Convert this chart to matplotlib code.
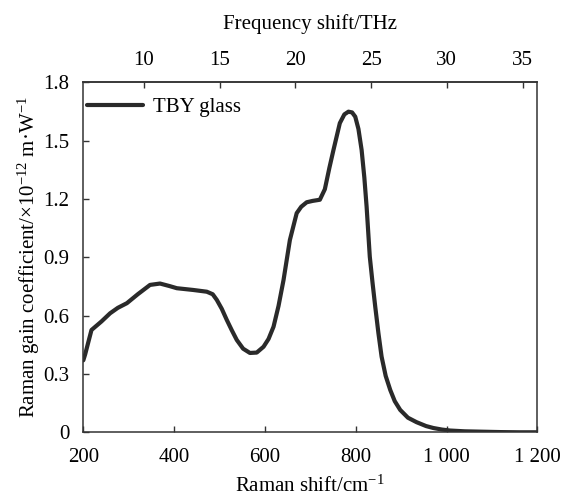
import matplotlib
matplotlib.use("Agg")
import matplotlib.pyplot as plt

plt.rcParams['font.family'] = ['Liberation Serif', 'DejaVu Serif']
plt.rcParams['mathtext.fontset'] = 'custom'
plt.rcParams['mathtext.rm'] = 'Liberation Serif'
plt.rcParams['mathtext.it'] = 'Liberation Serif:italic'

# Data
raman_shift = [200, 204, 218, 240, 259, 276, 296, 320, 347, 369, 390, 406, 442, 472, 485, 494,
               505, 516, 527, 538, 552, 567, 582, 597, 608, 619, 630, 641, 655, 670, 680,
               692, 705, 721, 732, 742, 751, 765, 775, 784, 792, 799, 806, 813, 819, 824,
               831, 837, 843, 850, 857, 866, 876, 886, 898, 915, 934, 955, 971, 990, 1008,
               1040, 1080, 1120, 1160, 1200]
gain = [0.37, 0.40, 0.526, 0.57, 0.612, 0.64, 0.664, 0.71, 0.758, 0.765, 0.752, 0.741, 0.732, 0.723, 0.71, 0.681,
        0.635, 0.578, 0.525, 0.475, 0.43, 0.408, 0.41, 0.44, 0.48, 0.543, 0.65, 0.783, 0.989, 1.127, 1.16,
        1.183, 1.19, 1.196, 1.25, 1.36, 1.452, 1.59, 1.635, 1.649, 1.645, 1.623, 1.56, 1.452, 1.31, 1.16,
        0.903, 0.77, 0.646, 0.51, 0.389, 0.29, 0.218, 0.16, 0.115, 0.075, 0.052, 0.032, 0.022, 0.014, 0.009,
        0.005, 0.003, 0.001, 0.0, 0.0]

x_ticks = [200, 400, 600, 800, 1000, 1200]
x_tick_labels = ['200', '400', '600', '800', '1 000', '1 200']
y_ticks = [0, 0.3, 0.6, 0.9, 1.2, 1.5, 1.8]
y_tick_labels = ['0', '0.3', '0.6', '0.9', '1.2', '1.5', '1.8']
thz_ticks = [10, 15, 20, 25, 30, 35]
CM_PER_THZ = 33.356

FS = 15

fig = plt.figure(figsize=(5.64, 4.97), dpi=100)
ax = fig.add_axes([0.1477, 0.1302, 0.805, 0.7042])

ax.plot(raman_shift, gain, color='#2a2a2a', lw=3.0, solid_capstyle='round', label='TBY glass')
ax.set_xlim(200, 1200)
ax.set_ylim(0, 1.8)

ax.set_xticks(x_ticks)
ax.set_xticklabels(x_tick_labels)
ax.set_yticks(y_ticks)
ax.set_yticklabels(y_tick_labels)

spine_col = '#333333'
for s in ax.spines.values():
    s.set_color(spine_col)
    s.set_linewidth(1.1)

ax.tick_params(axis='x', direction='in', length=4, width=1.0, color=spine_col,
               labelsize=FS, pad=11.5)
ax.tick_params(axis='y', direction='in', length=4, width=1.0, color=spine_col,
               labelsize=FS, pad=10)

ax.set_xlabel('Raman shift/cm$^{-1}$', fontsize=FS, labelpad=6)
ax.set_ylabel('Raman gain coefficient/×10$^{-12}$ m·W$^{-1}$', fontsize=FS, labelpad=1)

sec = ax.secondary_xaxis('top', functions=(lambda x: x / CM_PER_THZ, lambda t: t * CM_PER_THZ))
sec.set_xticks(thz_ticks)
sec.set_xticklabels([str(t) for t in thz_ticks])
sec.tick_params(direction='in', length=4, width=1.0, color=spine_col, labelsize=FS, pad=9)
sec.spines['top'].set_color(spine_col)
sec.spines['top'].set_linewidth(1.1)
sec.set_xlabel('Frequency shift/THz', fontsize=FS, labelpad=16)

leg = ax.legend(loc='upper left', bbox_to_anchor=(0.0, 0.966), frameon=False, fontsize=FS,
                handlelength=2.7, handletextpad=0.48, borderaxespad=0.0, borderpad=0.16)

fig.savefig('out.png', dpi=100)
